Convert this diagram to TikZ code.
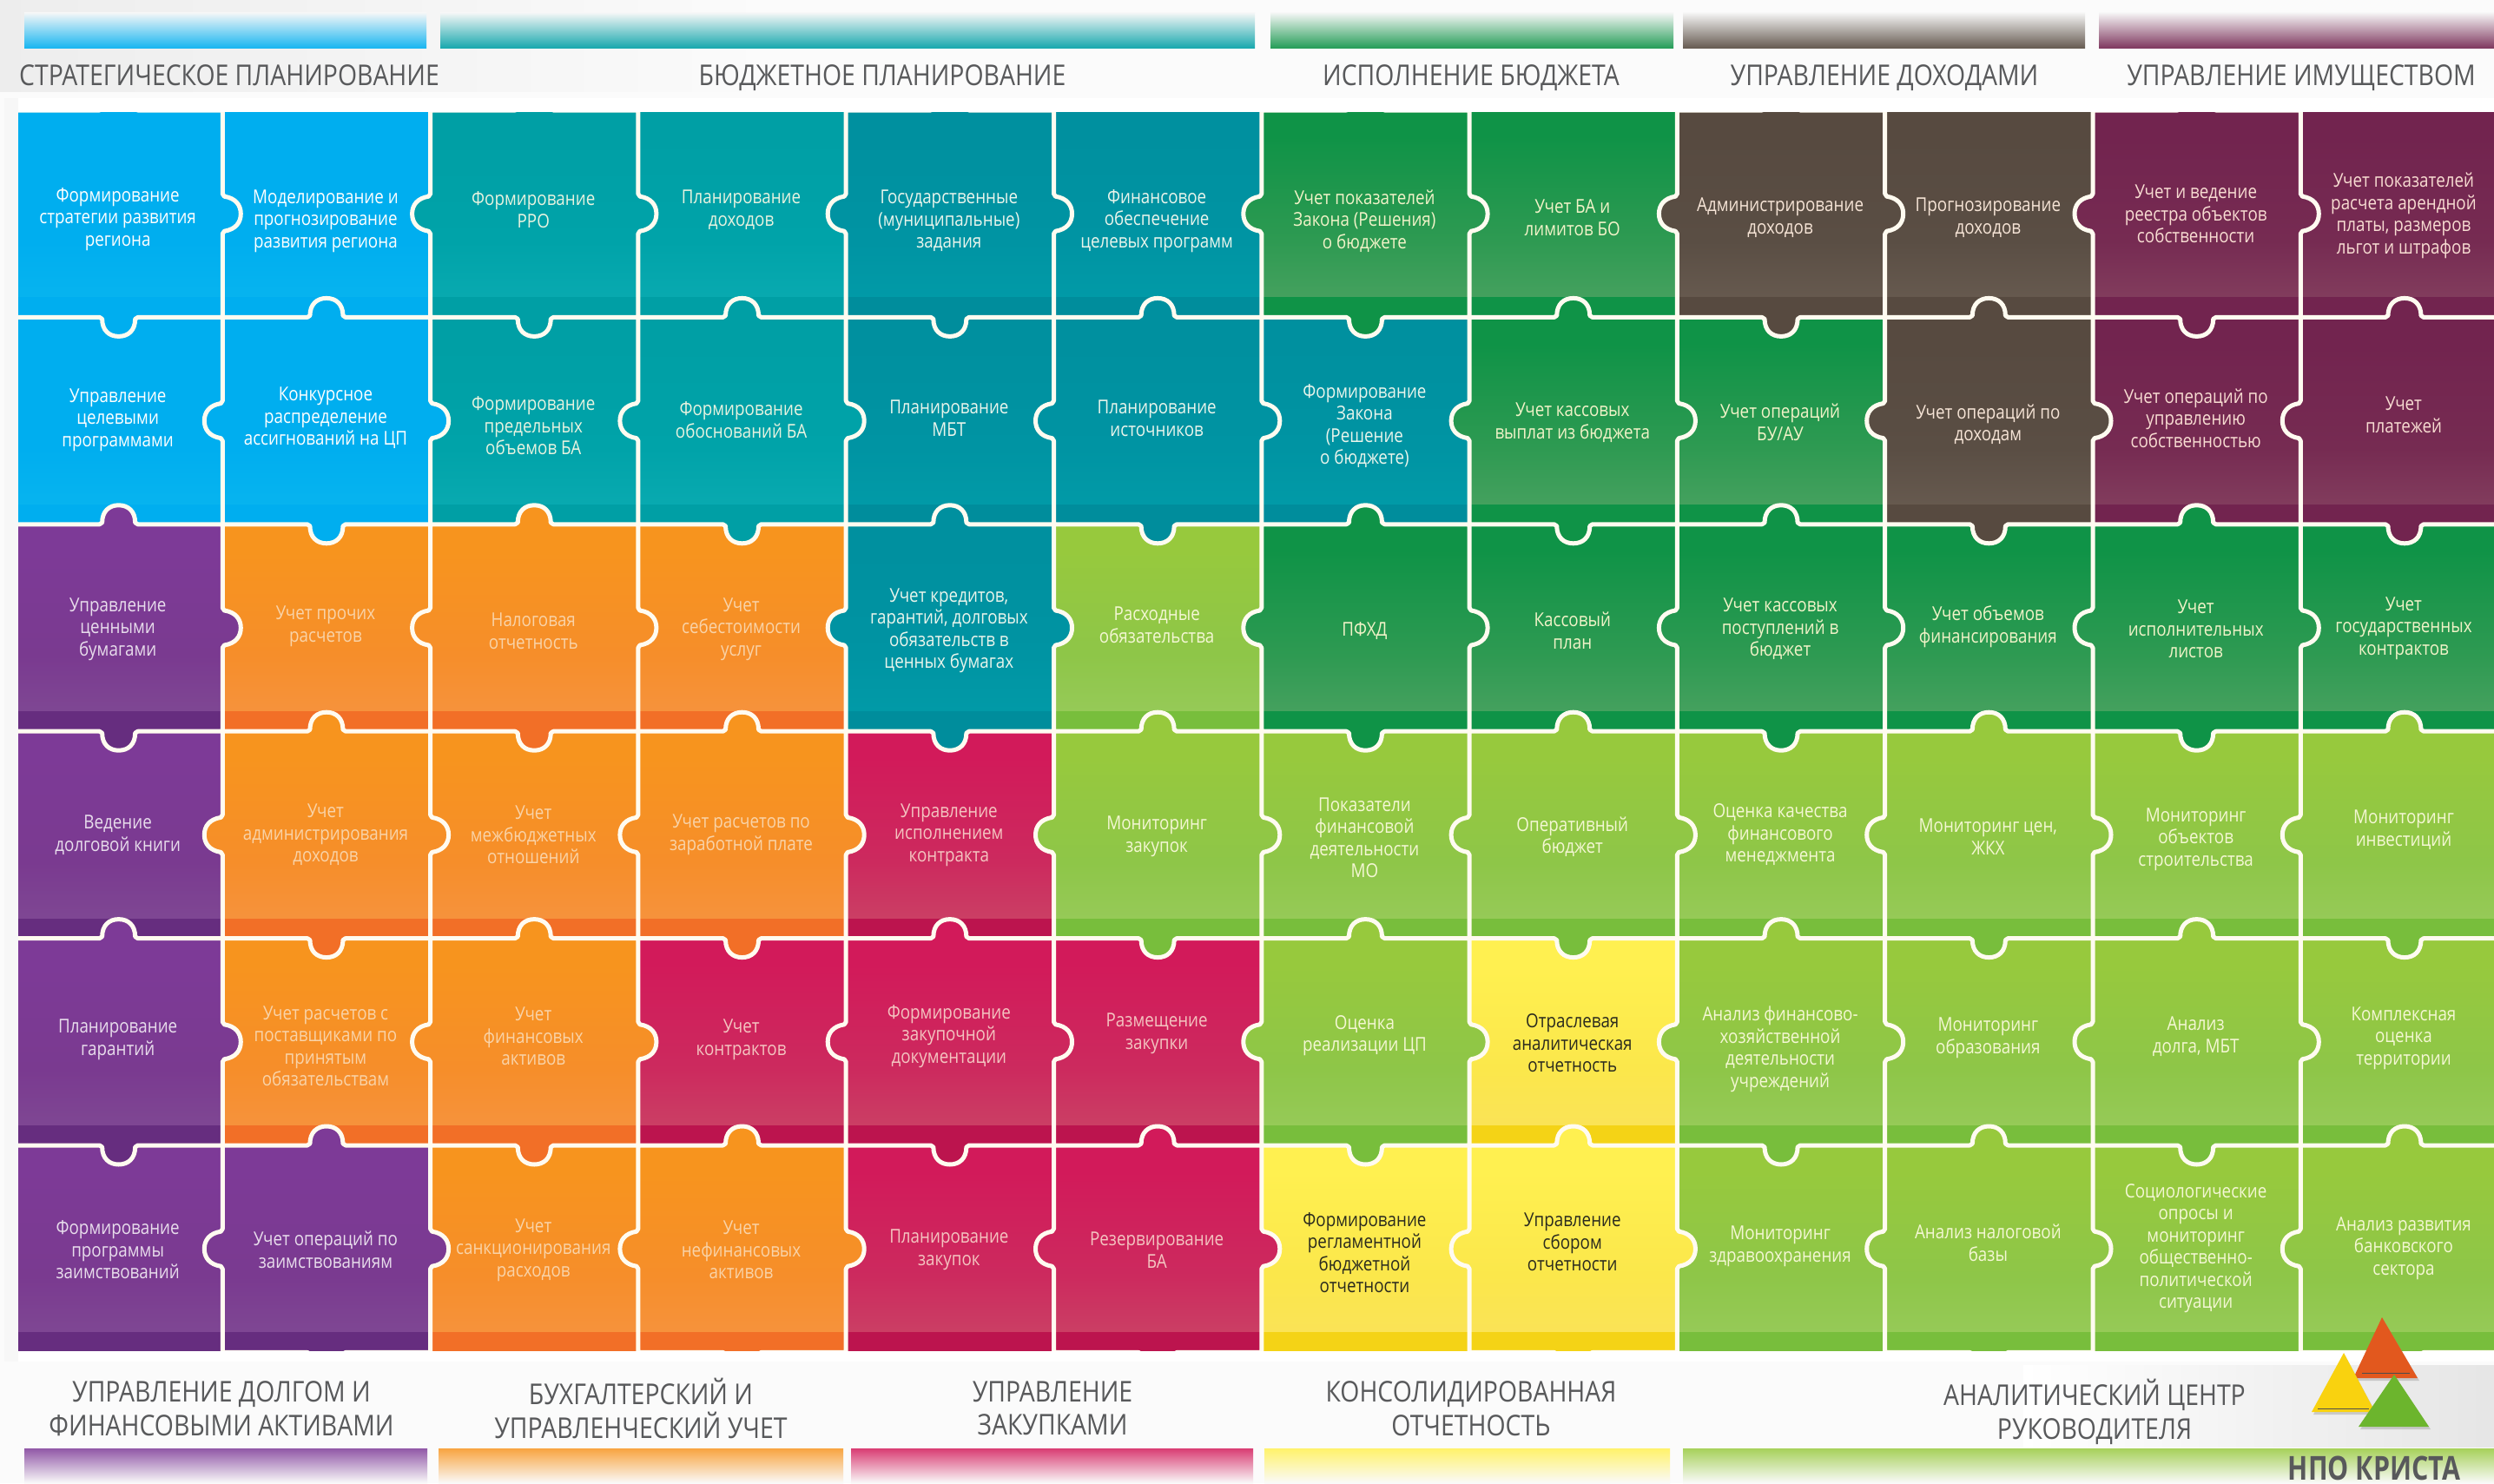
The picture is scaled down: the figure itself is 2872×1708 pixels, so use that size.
\documentclass[tikz,border=0pt]{standalone}
\usepackage{fontspec}
\setmainfont[FakeStretch=0.855]{Open Sans}
\newfontfamily\hdrfont[FakeStretch=0.86]{Open Sans}
\newfontfamily\logofont[FakeStretch=0.80]{Open Sans}
\pgfdeclarelayer{base}
\pgfdeclarelayer{front}
\pgfsetlayers{base,main,front}
% colours of a piece: top, middle, low, band, text
\newcommand\mkpal[6]{%
  \definecolor{#1T}{HTML}{#2}\definecolor{#1M}{HTML}{#3}\definecolor{#1L}{HTML}{#4}%
  \definecolor{#1B}{HTML}{#5}\definecolor{#1X}{HTML}{#6}%
  \pgfdeclareverticalshading{#1S}{100bp}{color(0bp)=(#1L); color(40bp)=(#1M); color(68bp)=(#1T); color(100bp)=(#1T)}}
\mkpal{blu}{00AEEF}{00AEEF}{12BDF0}{00AEEF}{FFFFFF}
\mkpal{tea}{009FA5}{00A3A9}{16B4BB}{009FA5}{E8F3E0}
\mkpal{teb}{00909F}{0094A3}{04A4AE}{008D9C}{EAF5EC}
\mkpal{dgr}{0F9347}{2E9A52}{6AAC72}{0F9347}{F1F3C8}
\mkpal{brn}{574A40}{5A4E44}{7A6C60}{574A40}{F6E4D6}
\mkpal{mar}{72244F}{762B52}{95596F}{72244F}{F8DCD2}
\mkpal{pur}{7D3A97}{7A3A90}{865C98}{662D7F}{E8DDEC}
\mkpal{ora}{F7941E}{F68E2A}{F69A5A}{F26F27}{F9D3A8}
\mkpal{cri}{D21A5A}{CC2A5E}{C9616F}{BC144E}{F4C4C0}
\mkpal{lgr}{97C93D}{8EC648}{A3D071}{78BE3C}{F4F7D4}
\mkpal{yel}{FFF050}{FBE74B}{F7DC6A}{F4D316}{2A2A1E}
\definecolor{hdrgray}{HTML}{58595B}
\definecolor{cutline}{HTML}{FFFBF0}
\definecolor{logored}{HTML}{E2581E}
\definecolor{logoyel}{HTML}{F9D20F}
\definecolor{logogrn}{HTML}{6CB52D}
\tikzset{
  pzltext/.style={align=center,inner sep=0pt,xshift=-1pt,yshift=-1.5pt,font=\fontsize{22}{25.5}\selectfont},
  hdrtext/.style={align=center,inner sep=0pt,text=hdrgray,font=\hdrfont\fontsize{33}{38.5}\selectfont},
  hdrtop/.style={hdrtext,anchor=base},
  cut/.style={draw=cutline,line width=5pt,line join=round},
  topstripe/.style={top color=black!3,middle color=#1!35,bottom color=#1!90},
  lowstripe/.style={top color=#1!85,middle color=#1!25,bottom color=black!2},
  logoshadow/.style={fill=black!35,opacity=.5}
}
% outline of a piece with its four tabs
\newcommand\tabbed{(\pxa,\pya)
  -- (\pxm-22,\pya) -- (\pxm-19,\pya-2) .. controls (\pxm-19,\pya-15) and (\pxm-11,\pya-22) .. (\pxm,\pya-22)
  .. controls (\pxm+11,\pya-22) and (\pxm+19,\pya-15) .. (\pxm+19,\pya-2) -- (\pxm+22,\pya)
  -- (\pxb,\pya) -- (\pxb,\pym-23) -- (\pxb+2,\pym-20) .. controls (\pxb+15,\pym-18) and (\pxb+21,\pym-10) .. (\pxb+21,\pym)
  .. controls (\pxb+21,\pym+10) and (\pxb+15,\pym+18) .. (\pxb+2,\pym+20) -- (\pxb,\pym+23)
  -- (\pxb,\pyb) -- (\pxm+22,\pyb) -- (\pxm+19,\pyb+2) .. controls (\pxm+19,\pyb+15) and (\pxm+11,\pyb+22) .. (\pxm,\pyb+22)
  .. controls (\pxm-11,\pyb+22) and (\pxm-19,\pyb+15) .. (\pxm-19,\pyb+2) -- (\pxm-22,\pyb)
  -- (\pxa,\pyb) -- (\pxa,\pym+23) -- (\pxa-2,\pym+20) .. controls (\pxa-15,\pym+18) and (\pxa-21,\pym+10) .. (\pxa-21,\pym)
  .. controls (\pxa-21,\pym-10) and (\pxa-15,\pym-18) .. (\pxa-2,\pym-20) -- (\pxa,\pym-23) -- cycle}
\newcommand\gridbox{(21,129.5) rectangle (2872,1555)}
% row, column, colours, text height, text
\newcommand\pzl[5]{%
  \pgfmathsetmacro\pxa{17+239.3*(#2-1)}
  \pgfmathsetmacro\pxb{17+239.3*#2}
  \pgfmathsetmacro\pxm{(\pxa+\pxb)/2}
  \pgfmathsetmacro\pya{127+238.4*(#1-1)}
  \pgfmathsetmacro\pyb{127+238.4*#1}
  \pgfmathsetmacro\pym{(\pya+\pyb)/2}
  \ifodd\numexpr#1+#2\relax
    \begin{pgfonlayer}{base}
      \begin{scope}
        \clip \gridbox;
        \shade[shading=#3S] (\pxa-1,\pya-1) rectangle (\pxb+1,\pyb-23);
        \fill[#3B] (\pxa-1,\pyb-23) rectangle (\pxb+1,\pyb+1);
      \end{scope}
    \end{pgfonlayer}
  \else
    \begin{scope}
      \clip \gridbox;
      \begin{scope}
        \clip \tabbed;
        \shade[shading=#3S] (\pxa-25,\pya) rectangle (\pxb+25,\pyb-23);
        \fill[#3T] (\pxa,\pya-25) rectangle (\pxb,\pya+.5);
        \fill[#3B] (\pxa-25,\pyb-23) rectangle (\pxb+25,\pyb+25);
      \end{scope}
      \path[cut] \tabbed;
    \end{scope}
  \fi
  \begin{pgfonlayer}{front}
    \node[pzltext,text=#3X] (p-#1-#2) at (\pxm,#4) {#5};
  \end{pgfonlayer}
}
\begin{document}
\begin{tikzpicture}[x=1pt,y=-1pt]
  \useasboundingbox (0,0) rectangle (2872,1708);
  % backdrop
  \begin{pgfonlayer}{base}
  \fill[black!1.5] (0,0) rectangle (2872,1708);
  \shade[left color=black!7,right color=black!4] (0,0) rectangle (505,105);
  \shade[left color=black!4,right color=black!1.5] (505,0) rectangle (900,105);
  \fill[white] (5,113) rectangle (2872,1568);
  \fill[black!3] (5,113) rectangle (21,1568);
  \shade[left color=white,right color=black!10] (2330,1572) rectangle (2872,1666);
  % stripes at the top
  \shade[topstripe=bluT] (28,14) rectangle (491,55);
  \shade[topstripe=teaT] (507,14) rectangle (1445,55);
  \shade[topstripe=dgrT] (1463,14) rectangle (1927,55);
  \shade[topstripe=brnT] (1938,14) rectangle (2401,55);
  \shade[topstripe=marT] (2417,14) rectangle (2872,55);
  % stripes at the bottom
  \shade[lowstripe=purT] (28,1668) rectangle (492,1708);
  \shade[lowstripe=oraT] (505,1668) rectangle (971,1708);
  \shade[lowstripe=criT] (980,1668) rectangle (1443,1708);
  \shade[lowstripe=yelT] (1456,1668) rectangle (1923,1708);
  \shade[lowstripe=lgrT] (1938,1668) rectangle (2872,1708);
  \end{pgfonlayer}
  % headings
  \node[hdrtop] (hStrateg) at (264,98) {СТРАТЕГИЧЕСКОЕ ПЛАНИРОВАНИЕ};
  \node[hdrtop] (hBudget) at (1016,98) {БЮДЖЕТНОЕ ПЛАНИРОВАНИЕ};
  \node[hdrtop] (hIspoln) at (1694,98) {ИСПОЛНЕНИЕ БЮДЖЕТА};
  \node[hdrtop] (hDohod) at (2170,98) {УПРАВЛЕНИЕ ДОХОДАМИ};
  \node[hdrtop] (hImush) at (2650,98) {УПРАВЛЕНИЕ ИМУЩЕСТВОМ};
  \node[hdrtext] (hDolg) at (255,1622) {УПРАВЛЕНИЕ ДОЛГОМ И\\ФИНАНСОВЫМИ АКТИВАМИ};
  \node[hdrtext] (hBuh) at (738,1622) {БУХГАЛТЕРСКИЙ И\\УПРАВЛЕНЧЕСКИЙ УЧЕТ};
  \node[hdrtext] (hZakup) at (1212,1622) {УПРАВЛЕНИЕ\\ЗАКУПКАМИ};
  \node[hdrtext] (hKons) at (1694,1622) {КОНСОЛИДИРОВАННАЯ\\ОТЧЕТНОСТЬ};
  \node[hdrtext] (hAnal) at (2412,1626) {АНАЛИТИЧЕСКИЙ ЦЕНТР\\РУКОВОДИТЕЛЯ};
  % row 1
  \pzl{1}{1}{blu}{251}{Формирование\\стратегии развития\\региона}
  \pzl{1}{2}{blu}{253}{Моделирование и\\прогнозирование\\развития региона}
  \pzl{1}{3}{tea}{240}{Формирование\\РРО}
  \pzl{1}{4}{tea}{240}{Планирование\\доходов}
  \pzl{1}{5}{teb}{253}{Государственные\\(муниципальные)\\задания}
  \pzl{1}{6}{teb}{253}{Финансовое\\обеспечение\\целевых программ}
  \pzl{1}{7}{dgr}{253}{Учет показателей\\Закона (Решения)\\о бюджете}
  \pzl{1}{8}{dgr}{249}{Учет БА и\\лимитов БО}
  \pzl{1}{9}{brn}{249}{Администрирование\\доходов}
  \pzl{1}{10}{brn}{249}{Прогнозирование\\доходов}
  \pzl{1}{11}{mar}{245}{Учет и ведение\\реестра объектов\\собственности}
  \pzl{1}{12}{mar}{247}{Учет показателей\\расчета арендной\\платы, размеров\\льгот и штрафов}
  % row 2
  \pzl{2}{1}{blu}{482}{Управление\\целевыми\\программами}
  \pzl{2}{2}{blu}{480}{Конкурсное\\распределение\\ассигнований на ЦП}
  \pzl{2}{3}{tea}{489}{Формирование\\предельных\\объемов БА}
  \pzl{2}{4}{tea}{482}{Формирование\\обоснований БА}
  \pzl{2}{5}{teb}{480}{Планирование\\МБТ}
  \pzl{2}{6}{teb}{480}{Планирование\\источников}
  \pzl{2}{7}{teb}{489}{Формирование\\Закона\\(Решение\\о бюджете)}
  \pzl{2}{8}{dgr}{485}{Учет кассовых\\выплат из бюджета}
  \pzl{2}{9}{dgr}{485}{Учет операций\\БУ/АУ}
  \pzl{2}{10}{brn}{487}{Учет операций по\\доходам}
  \pzl{2}{11}{mar}{480}{Учет операций по\\управлению\\собственностью}
  \pzl{2}{12}{mar}{476}{Учет\\платежей}
  % row 3
  \pzl{3}{1}{pur}{723}{Управление\\ценными\\бумагами}
  \pzl{3}{2}{ora}{720}{Учет прочих\\расчетов}
  \pzl{3}{3}{ora}{725}{Налоговая\\отчетность}
  \pzl{3}{4}{ora}{723}{Учет\\себестоимости\\услуг}
  \pzl{3}{5}{teb}{725}{Учет кредитов,\\гарантий, долговых\\обязательств в\\ценных бумагах}
  \pzl{3}{6}{lgr}{718}{Расходные\\обязательства}
  \pzl{3}{7}{dgr}{725}{ПФХД}
  \pzl{3}{8}{dgr}{725}{Кассовый\\план}
  \pzl{3}{9}{dgr}{723}{Учет кассовых\\поступлений в\\бюджет}
  \pzl{3}{10}{dgr}{720}{Учет объемов\\финансирования}
  \pzl{3}{11}{dgr}{723}{Учет\\исполнительных\\листов}
  \pzl{3}{12}{dgr}{722}{Учет\\государственных\\контрактов}
  % row 4
  \pzl{4}{1}{pur}{960}{Ведение\\долговой книги}
  \pzl{4}{2}{ora}{960}{Учет\\администрирования\\доходов}
  \pzl{4}{3}{ora}{960}{Учет\\межбюджетных\\отношений}
  \pzl{4}{4}{ora}{960}{Учет расчетов по\\заработной плате}
  \pzl{4}{5}{cri}{960}{Управление\\исполнением\\контракта}
  \pzl{4}{6}{lgr}{962}{Мониторинг\\закупок}
  \pzl{4}{7}{lgr}{963}{Показатели\\финансовой\\деятельности\\МО}
  \pzl{4}{8}{lgr}{962}{Оперативный\\бюджет}
  \pzl{4}{9}{lgr}{960}{Оценка качества\\финансового\\менеджмента}
  \pzl{4}{10}{lgr}{962}{Мониторинг цен,\\ЖКХ}
  \pzl{4}{11}{lgr}{965}{Мониторинг\\объектов\\строительства}
  \pzl{4}{12}{lgr}{954}{Мониторинг\\инвестиций}
  % row 5
  \pzl{5}{1}{pur}{1196}{Планирование\\гарантий}
  \pzl{5}{2}{ora}{1203}{Учет расчетов с\\поставщиками по\\принятым\\обязательствам}
  \pzl{5}{3}{ora}{1192}{Учет\\финансовых\\активов}
  \pzl{5}{4}{cri}{1196}{Учет\\контрактов}
  \pzl{5}{5}{cri}{1192}{Формирование\\закупочной\\документации}
  \pzl{5}{6}{cri}{1189}{Размещение\\закупки}
  \pzl{5}{7}{lgr}{1191}{Оценка\\реализации ЦП}
  \pzl{5}{8}{yel}{1200}{Отраслевая\\аналитическая\\отчетность}
  \pzl{5}{9}{lgr}{1207}{Анализ финансово-\\хозяйственной\\деятельности\\учреждений}
  \pzl{5}{10}{lgr}{1194}{Мониторинг\\образования}
  \pzl{5}{11}{lgr}{1192}{Анализ\\долга, МБТ}
  \pzl{5}{12}{lgr}{1194}{Комплексная\\оценка\\территории}
  % row 6
  \pzl{6}{1}{pur}{1438}{Формирование\\программы\\заимствований}
  \pzl{6}{2}{pur}{1438}{Учет операций по\\заимствованиям}
  \pzl{6}{3}{ora}{1438}{Учет\\санкционирования\\расходов}
  \pzl{6}{4}{ora}{1438}{Учет\\нефинансовых\\активов}
  \pzl{6}{5}{cri}{1438}{Планирование\\закупок}
  \pzl{6}{6}{cri}{1438}{Резервирование\\БА}
  \pzl{6}{7}{yel}{1441}{Формирование\\регламентной\\бюджетной\\отчетности}
  \pzl{6}{8}{yel}{1429}{Управление\\сбором\\отчетности}
  \pzl{6}{9}{lgr}{1434}{Мониторинг\\здравоохранения}
  \pzl{6}{10}{lgr}{1430}{Анализ налоговой\\базы}
  \pzl{6}{11}{lgr}{1436}{Социологические\\опросы и\\мониторинг\\общественно-\\политической\\ситуации}
  \pzl{6}{12}{lgr}{1436}{Анализ развития\\банковского\\сектора}
  % logo
  \begin{pgfonlayer}{front}
    \fill[logoshadow] (2744,1519) -- (2786,1590) -- (2712,1590) -- cycle;
    \fill[logored] (2743,1517) -- (2784,1587) -- (2710,1587) -- cycle;
    \draw[black!70,line width=1pt] (2720,1581) -- (2775,1581);
    \fill[logoshadow] (2700,1560) -- (2737,1629) -- (2664,1629) -- cycle;
    \fill[logoyel] (2699,1558) -- (2735,1626) -- (2662,1626) -- cycle;
    \draw[black!70,line width=1pt] (2669,1622) -- (2728,1622);
    \fill[logoshadow] (2758,1585) -- (2799,1646) -- (2718,1646) -- cycle;
    \fill[logogrn] (2757,1583) -- (2797,1643) -- (2716,1643) -- cycle;
    \node[anchor=base,inner sep=0pt,text=hdrgray,font=\logofont\fontsize{38}{38}\selectfont\bfseries] (logoName) at (2734,1704) {НПО КРИСТА};
  \end{pgfonlayer}
\end{tikzpicture}
\end{document}
